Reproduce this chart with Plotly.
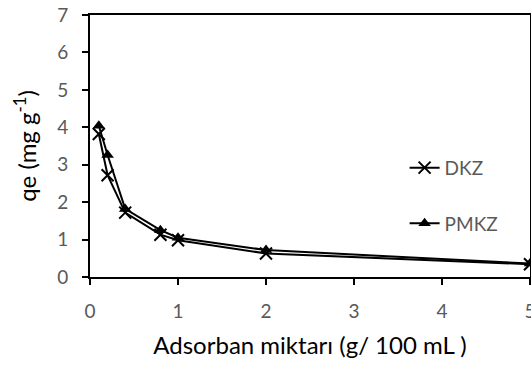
import plotly.graph_objects as go

x_vals = [0.1, 0.2, 0.4, 0.8, 1.0, 2.0, 5.0]
dkz = [3.82, 2.72, 1.72, 1.13, 0.98, 0.63, 0.34]
pmkz = [4.04, 3.26, 1.82, 1.25, 1.05, 0.72, 0.36]
x_ticks = [0, 1, 2, 3, 4, 5]
y_ticks = [0, 1, 2, 3, 4, 5, 6, 7]

FONT = "Lato"
fig = go.Figure()
fig.add_trace(go.Scatter(
    x=x_vals, y=dkz, name="DKZ", mode="lines+markers", legendgroup="a",
    line=dict(color="black", width=2),
    marker=dict(symbol="x-thin", size=12, line=dict(color="black", width=2), color="black"),
))
fig.add_trace(go.Scatter(
    x=x_vals, y=pmkz, name="PMKZ", mode="lines+markers", legendgroup="b",
    line=dict(color="black", width=2),
    marker=dict(symbol="triangle-up", size=11, color="black"),
))

axis_common = dict(
    showline=True, linecolor="black", linewidth=2, mirror=True,
    ticks="outside", ticklen=6, tickwidth=2, tickcolor="black",
    showgrid=False, zeroline=False, automargin=False,
    tickfont=dict(family=FONT, size=19, color="#595959"),
)
fig.update_layout(
    width=531, height=376,
    margin=dict(l=90, r=1, t=15, b=99),
    plot_bgcolor="white", paper_bgcolor="white",
    xaxis=dict(range=[0, 5], tickvals=x_ticks, ticklabelstandoff=10, ticklabeloverflow="allow", **axis_common,
               title=dict(text="Adsorban miktarı (g/ 100 mL )", font=dict(family=FONT, size=24, color="black"), standoff=16)),
    yaxis=dict(range=[0, 7], tickvals=y_ticks, ticklabelstandoff=10, **axis_common,
               title=dict(text="qe (mg g<sup>-1</sup>)", font=dict(family=FONT, size=24, color="black"), standoff=14)),
    legend=dict(x=0.715, y=0.31, xanchor="left", yanchor="middle",
                font=dict(family=FONT, size=19, color="#595959"),
                bgcolor="rgba(0,0,0,0)", tracegroupgap=28, traceorder="grouped"),
)
fig.write_html("out.html")
